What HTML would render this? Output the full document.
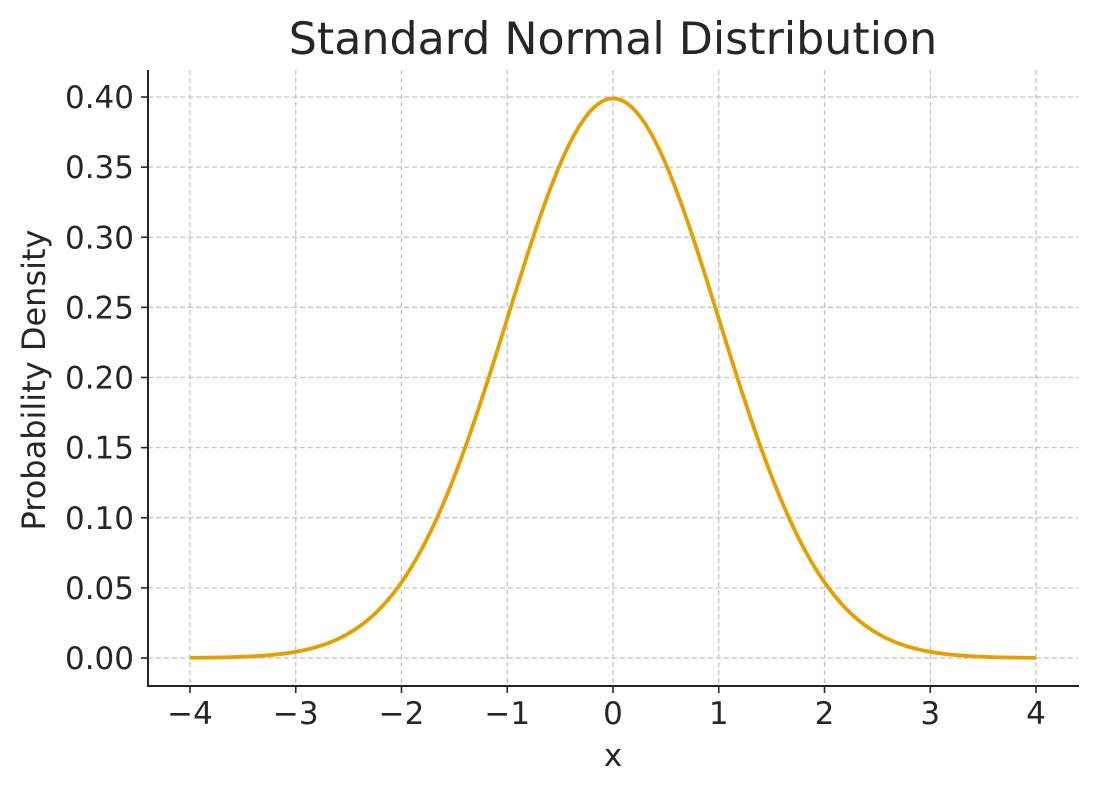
<!DOCTYPE html>
<html><head><meta charset="utf-8"><style>
html,body{margin:0;padding:0;background:#fff;}
svg text{font-family:"DejaVu Sans","Liberation Sans",sans-serif;fill:#262626;}
</style></head><body>
<svg id="c" width="1098" height="793" xmlns="http://www.w3.org/2000/svg">
<rect width="1098" height="793" fill="#fff"/>
<g id="grid" stroke="#c4c4c4" stroke-width="1.3" stroke-dasharray="5,3"></g>
<path id="curve" fill="none" stroke="#e69f00" stroke-width="3.8" stroke-linejoin="round"/>
<line x1="148" y1="70" x2="148" y2="687" stroke="#262626" stroke-width="2"/>
<line x1="147" y1="686" x2="1079" y2="686" stroke="#262626" stroke-width="2"/>
<g id="ticks" stroke="#262626" stroke-width="1.6"></g>
<g id="labels" font-size="31"></g>
<text x="613" y="54" font-size="44.3" text-anchor="middle" fill="#333">Standard Normal Distribution</text>
<text x="613" y="766" font-size="31" text-anchor="middle">x</text>
<text transform="translate(45,380) rotate(-90)" font-size="32" text-anchor="middle">Probability Density</text>
</svg>
<script>
var NS="http://www.w3.org/2000/svg";
function X(v){return 613+v*105.75;}
function Y(v){return 658-v*1402.5;}
var g=document.getElementById('grid'),t=document.getElementById('ticks'),l=document.getElementById('labels');
function el(p,n,a,txt){var e=document.createElementNS(NS,n);for(var k in a)e.setAttribute(k,a[k]);if(txt!=null)e.textContent=txt;p.appendChild(e);}
for(var i=-4;i<=4;i++){var x=X(i);
el(g,'line',{x1:x,y1:70,x2:x,y2:686});
el(t,'line',{x1:x,y1:686,x2:x,y2:693});
el(l,'text',{x:x,y:724,'text-anchor':'middle'},(i<0?'\u2212':'')+Math.abs(i));}
for(var j=0;j<=8;j++){var v=j*0.05,y=Y(v);
el(g,'line',{x1:148,y1:y,x2:1078,y2:y});
el(t,'line',{x1:141,y1:y,x2:148,y2:y});
el(l,'text',{x:134,y:y+11,'text-anchor':'end'},v.toFixed(2));}
var d='';for(var k=0;k<=800;k++){var xv=-4+k*0.01,yv=Math.exp(-xv*xv/2)/Math.sqrt(2*Math.PI);
d+=(k?'L':'M')+X(xv).toFixed(2)+' '+Y(yv).toFixed(2);}
document.getElementById('curve').setAttribute('d',d);
</script>
</body></html>
